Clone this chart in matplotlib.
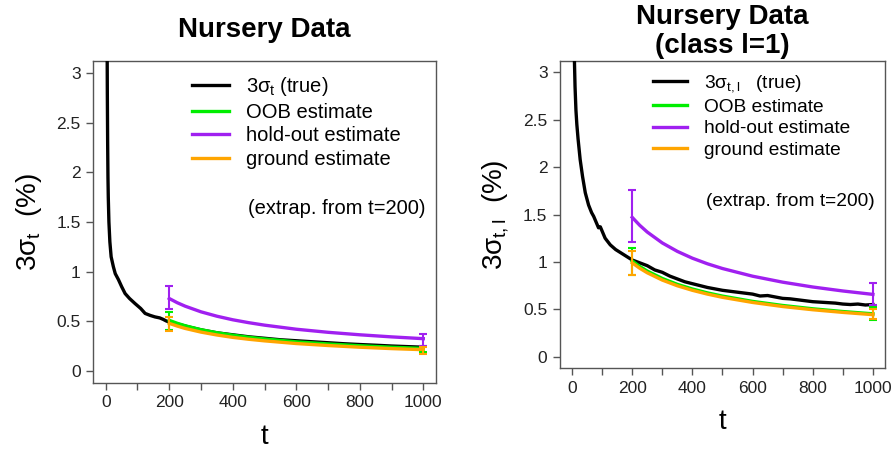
import matplotlib
matplotlib.use("Agg")
import matplotlib.pyplot as plt

plt.rcParams["font.family"] = ["Liberation Sans", "DejaVu Sans"]
plt.rcParams["mathtext.fontset"] = "custom"
plt.rcParams["mathtext.rm"] = "Liberation Sans"
plt.rcParams["mathtext.it"] = "Liberation Sans"
plt.rcParams["mathtext.bf"] = "Liberation Sans:bold"

# ---- data ----
# true 3*sigma curves (overall and class l=1)
t_true_all = [1, 2, 3, 4, 5, 6, 7, 8, 10, 13, 17, 24, 30, 40, 50, 61, 75, 92,
              110, 124, 140, 155, 170, 181, 190, 202, 230, 260, 300, 350, 400,
              450, 500, 550, 600, 650, 700, 750, 800, 850, 900, 950, 1000]
true_all = [15.0, 7.5, 5.0, 3.6, 2.8, 2.3, 1.95, 1.75, 1.5, 1.3, 1.15, 1.05,
            0.98, 0.92, 0.85, 0.78, 0.73, 0.68, 0.63, 0.58, 0.56, 0.545, 0.535,
            0.52, 0.505, 0.49, 0.47, 0.445, 0.415, 0.385, 0.365, 0.345, 0.33,
            0.315, 0.305, 0.295, 0.285, 0.275, 0.267, 0.26, 0.252, 0.246, 0.24]

t_true_cls = [1, 2, 3, 5, 7, 10, 13, 16, 20, 27, 35, 44, 55, 65, 72, 80, 88, 94,
              110, 127, 145, 160, 180, 200, 225, 250, 275, 300, 325, 350, 375,
              400, 425, 450, 475, 500, 525, 550, 575, 600, 625, 650, 675, 700,
              725, 750, 775, 800, 825, 850, 875, 900, 925, 950, 975, 1000]
true_cls = [9.0, 6.5, 5.0, 3.8, 3.25, 2.85, 2.6, 2.45, 2.3, 2.08, 1.9, 1.73,
            1.6, 1.52, 1.48, 1.42, 1.36, 1.37, 1.25, 1.18, 1.13, 1.1, 1.06, 1.02,
            0.99, 0.96, 0.915, 0.89, 0.85, 0.82, 0.79, 0.77, 0.75, 0.73, 0.715,
            0.70, 0.69, 0.68, 0.67, 0.66, 0.64, 0.645, 0.63, 0.615, 0.61, 0.60,
            0.59, 0.58, 0.575, 0.57, 0.565, 0.555, 0.55, 0.555, 0.545, 0.55]

# extrapolated estimates from t=200
t_est = [200, 225, 250, 300, 350, 400, 450, 500, 600, 700, 800, 900, 1000]
oob_all = [0.51, 0.481, 0.456, 0.416, 0.386, 0.361, 0.340, 0.323, 0.294, 0.273, 0.255, 0.240, 0.228]
hold_all = [0.73, 0.688, 0.653, 0.596, 0.552, 0.516, 0.487, 0.462, 0.421, 0.390, 0.365, 0.344, 0.326]
ground_all = [0.48, 0.453, 0.429, 0.392, 0.363, 0.339, 0.320, 0.304, 0.277, 0.257, 0.240, 0.226, 0.215]

oob_cls = [1.01, 0.952, 0.903, 0.825, 0.763, 0.714, 0.673, 0.639, 0.583, 0.540, 0.505, 0.476, 0.452]
hold_cls = [1.47, 1.386, 1.315, 1.200, 1.111, 1.039, 0.980, 0.930, 0.849, 0.786, 0.735, 0.693, 0.657]
ground_cls = [0.99, 0.933, 0.885, 0.808, 0.748, 0.700, 0.660, 0.626, 0.572, 0.529, 0.495, 0.467, 0.443]

# error bars at t=200 and t=1000: (low, high)
t_err = [200, 1000]
oob_all_err = ([0.41, 0.195], [0.59, 0.255])
hold_all_err = ([0.62, 0.25], [0.86, 0.37])
ground_all_err = ([0.40, 0.17], [0.54, 0.24])
oob_cls_err = ([0.86, 0.39], [1.15, 0.52])
hold_cls_err = ([1.21, 0.55], [1.76, 0.78])
ground_cls_err = ([0.86, 0.40], [1.12, 0.50])

GREEN, PURPLE, ORANGE = "#00ee00", "#a020f0", "#ffa500"
SPINE = "#555555"


def panel(ax, t_true, true_vals, oob, hold, ground, errs, true_label, ylabel, title, title_pad,
          legend_anchor, legend_size):
    ax.plot(t_true, true_vals, color="black", lw=2.4, label=true_label, zorder=3)
    for vals, col, lab in ((oob, GREEN, "OOB estimate"), (hold, PURPLE, "hold-out estimate"),
                           (ground, ORANGE, "ground estimate")):
        ax.plot(t_est, vals, color=col, lw=2.4, label=lab, zorder=4)
    for vals, (lo, hi), col in zip((oob, hold, ground), errs, (GREEN, PURPLE, ORANGE)):
        mid = [vals[0], vals[-1]]
        yerr = [[m - l for m, l in zip(mid, lo)], [h - m for m, h in zip(mid, hi)]]
        ax.errorbar(t_err, mid, yerr=yerr, fmt="none", ecolor=col, elinewidth=1.5,
                    capsize=3, capthick=1.5, zorder=5)

    ax.set_xlim(-40, 1040)
    ax.set_ylim(-0.12, 3.12)
    ax.set_xticks(range(0, 1001, 100))
    ax.set_xticklabels([str(v) if v % 200 == 0 else "" for v in range(0, 1001, 100)])
    ax.set_yticks([0, 0.5, 1, 1.5, 2, 2.5, 3])
    ax.set_yticklabels(["0", "0.5", "1", "1.5", "2", "2.5", "3"])
    ax.tick_params(length=5, width=1, color=SPINE, labelsize=12.5, pad=4, labelcolor="#222222")
    for s in ax.spines.values():
        s.set_color(SPINE)
        s.set_linewidth(1)
    ax.set_xlabel("t", fontsize=20, labelpad=10)
    ax.set_ylabel(ylabel, fontsize=20, labelpad=9)
    ax.set_title(title, fontsize=20, fontweight="bold", pad=title_pad, linespacing=1.15)

    ax.legend(loc="upper left", bbox_to_anchor=legend_anchor, frameon=False, fontsize=legend_size,
              handlelength=1.8, handletextpad=0.85, labelspacing=0.22, borderpad=0,
              borderaxespad=0)
    ax.text(legend_anchor[0] + 0.162, 0.543, "(extrap. from t=200)", transform=ax.transAxes,
            fontsize=legend_size, va="center", ha="left")


fig = plt.figure(figsize=(8.92, 4.54), dpi=100)
ax1 = fig.add_axes([0.1043, 0.1564, 0.3845, 0.7093])
ax2 = fig.add_axes([0.6278, 0.1894, 0.3643, 0.6762])

panel(ax1, t_true_all, true_all, oob_all, hold_all, ground_all,
      (oob_all_err, hold_all_err, ground_all_err),
      r"3$\sigma_{t}$ (true)", r"3$\sigma_{t}$  (%)", "Nursery Data", 17, (0.29, 0.955), 14.5)
panel(ax2, t_true_cls, true_cls, oob_cls, hold_cls, ground_cls,
      (oob_cls_err, hold_cls_err, ground_cls_err),
      r"3$\sigma_{t,l}$   (true)", r"3$\sigma_{t,l}$  (%)", "Nursery Data\n(class l=1)", 6,
      (0.286, 0.96), 13.8)

fig.savefig("out.png", dpi=100)
